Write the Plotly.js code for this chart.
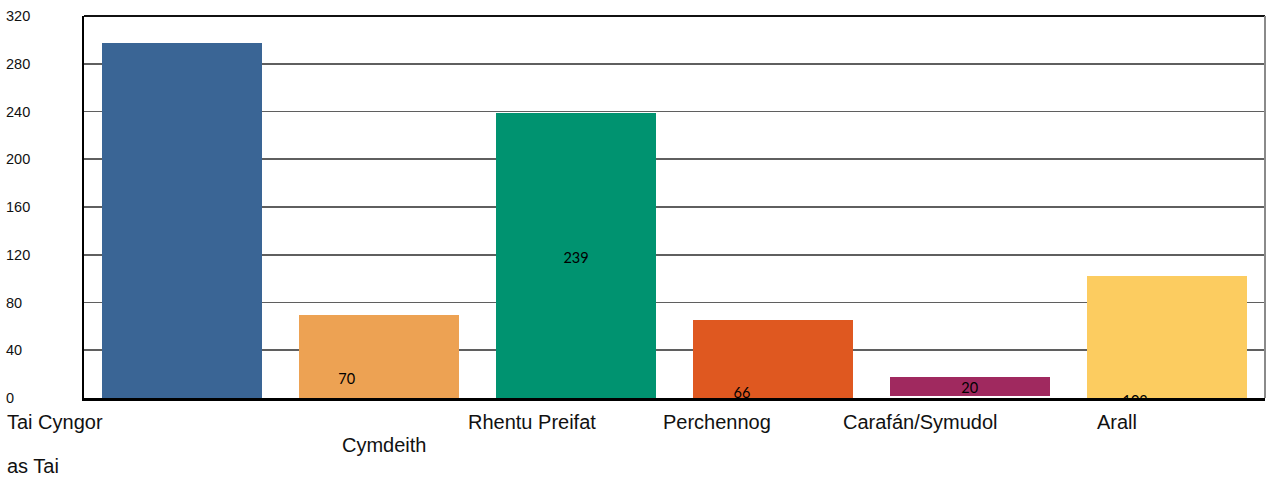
<!DOCTYPE html>
<html>
<head>
<meta charset="utf-8">
<script src="https://cdn.plot.ly/plotly-3.0.1.min.js"></script>
<style>html,body{margin:0;padding:0;background:#fff;}#chart{width:1266px;height:478px;}</style>
</head>
<body>
<div id="chart"></div>
<script>
// ---- data ----
const categories = ["Tai Cyngor", "Cymdeithas Tai", "Rhentu Preifat", "Perchennog", "Carafán/Symudol", "Arall"];
const barTops = [297.5, 69.5, 239, 65, 17.5, 102];
const barBases = [0, 0, 0, 0, 1.7, 0];
const valueLabels = ["", "70", "239", "66", "20", "103"];
const barColors = ["#3A6595", "#EDA253", "#009370", "#DF5820", "#A0295F", "#FCCC60"];
const yTickValues = [0, 40, 80, 120, 160, 200, 240, 280, 320];

// ---- layout helpers (positions, not data) ----
const W = 1266, H = 478;
const M = {l: 84, r: 1, t: 16, b: 80};
const PW = W - M.l - M.r, PH = H - M.t - M.b;
const px2x = px => (px - M.l) / PW;
const py2y = py => (H - M.b - py) / PH;

const valueLabelY = [0, 15, 116, 3.2, 7.5, -4];
const valueLabelDx = [0, -0.165, 0, -0.157, 0, -0.16];
// category label pieces: [slice, left px, center py]
const catLabelPlacement = [
  [[0, null], 8, 422],
  [[0, 8], 343, 445],
  [[8, null], 8, 466],
  [[0, null], 469, 422],
  [[0, null], 664, 422],
  [[0, null], 844, 422],
  [[0, null], 1098, 422]
];
const catLabelSource = [0, 1, 1, 2, 3, 4, 5];

const idx = categories.map((c, i) => i);

const bars = {
  type: 'bar',
  x: idx,
  y: barTops.map((t, i) => t - barBases[i]),
  base: barBases,
  width: 0.813,
  marker: {color: barColors, line: {width: 0}},
  hoverinfo: 'skip',
  showlegend: false
};

const labels = {
  type: 'scatter',
  mode: 'text',
  x: idx.map(i => i + valueLabelDx[i]),
  y: valueLabelY,
  text: valueLabels,
  textposition: 'middle center',
  textfont: {family: 'Lato, Carlito, sans-serif', size: 14.5, color: '#000'},
  cliponaxis: true,
  hoverinfo: 'skip',
  showlegend: false
};

const annotations = [];
yTickValues.forEach(v => {
  annotations.push({
    xref: 'paper', yref: 'y', x: px2x(8), y: v, xanchor: 'left', yanchor: 'middle',
    xshift: -2, borderpad: 0, borderwidth: 0,
    text: String(v), showarrow: false,
    font: {family: 'Liberation Sans, Arial, sans-serif', size: 14.5, color: '#111'}
  });
});
catLabelPlacement.forEach((p, k) => {
  const full = categories[catLabelSource[k]];
  const txt = p[0][1] === null ? full.slice(p[0][0]) : full.slice(p[0][0], p[0][1]);
  annotations.push({
    xref: 'paper', yref: 'paper', x: px2x(p[1]), y: py2y(p[2]), xanchor: 'left', yanchor: 'middle',
    xshift: -1, borderpad: 0, borderwidth: 0,
    text: txt, showarrow: false,
    font: {family: 'Liberation Sans, Arial, sans-serif', size: 20, color: '#111'}
  });
});

const layout = {
  width: W, height: H,
  margin: M,
  paper_bgcolor: '#fff', plot_bgcolor: '#fff',
  showlegend: false,
  bargap: 0,
  xaxis: {
    range: [-0.5, categories.length - 0.5],
    showgrid: false, zeroline: false, showticklabels: false, ticks: '',
    showline: true, linecolor: '#000', linewidth: 3, fixedrange: true
  },
  yaxis: {
    range: [0, 320], tickvals: yTickValues, showticklabels: false, ticks: '',
    showgrid: true, gridcolor: '#5f5f5f', gridwidth: 1.6,
    zeroline: false, showline: true, linecolor: '#000', linewidth: 2, fixedrange: true
  },
  shapes: [
    {type: 'line', xref: 'paper', yref: 'paper', x0: 0, x1: 1, y0: 1, y1: 1, line: {color: '#111', width: 2}},
    {type: 'line', xref: 'paper', yref: 'paper', x0: 1, x1: 1, y0: 0, y1: 1, line: {color: '#8a8a8a', width: 2}}
  ],
  annotations: annotations
};

Plotly.newPlot('chart', [bars, labels], layout, {displayModeBar: false, staticPlot: true});
</script>
</body>
</html>
